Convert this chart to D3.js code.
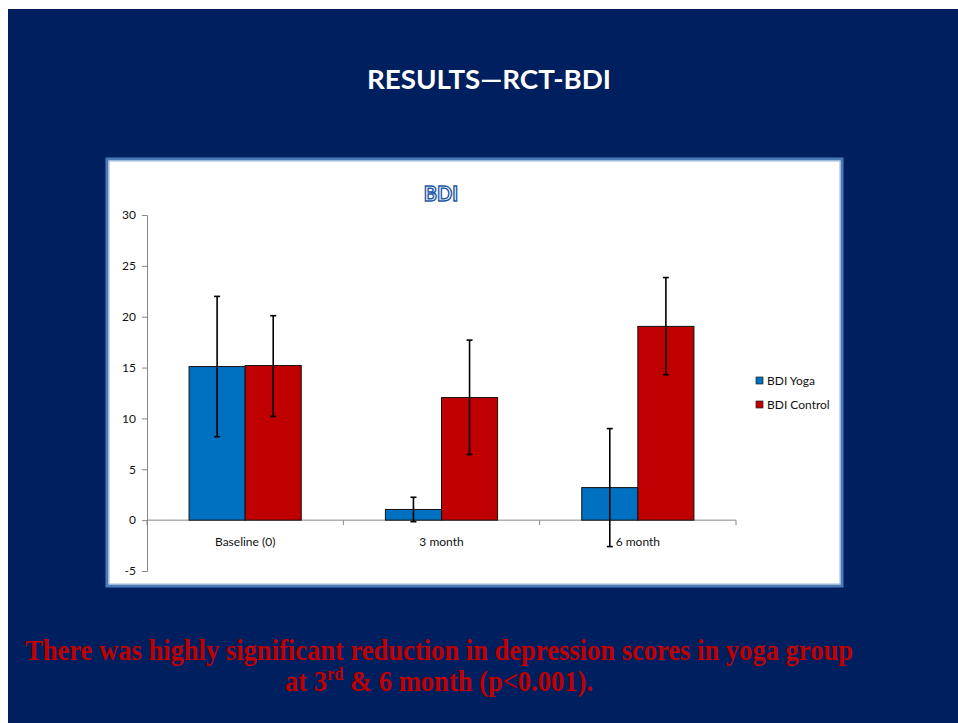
<!DOCTYPE html>
<html><head><meta charset="utf-8">
<script src="https://cdn.jsdelivr.net/npm/d3@7"></script>
<style>html,body{margin:0;padding:0;background:#fff;}svg{display:block;}</style>
</head><body>
<svg id="c" width="958" height="723"></svg>
<script>
const categories = ["Baseline (0)", "3 month", "6 month"];
const series = ["BDI Yoga", "BDI Control"];
const yogaMeans = [15.1, 1.05, 3.2];
const yogaErrUp = [22.0, 2.25, 9.0];
const yogaErrDown = [8.2, -0.15, -2.6];
const controlMeans = [15.2, 12.05, 19.05];
const controlErrUp = [20.1, 17.7, 23.85];
const controlErrDown = [10.2, 6.45, 14.3];
const yTicks = [-5, 0, 5, 10, 15, 20, 25, 30];
const colors = ["#0070c0", "#c00000"];

const svg = d3.select("#c");
svg.append("rect").attr("x", 8).attr("y", 9).attr("width", 950).attr("height", 714).attr("fill", "#001f5f");

svg.append("text").attr("x", 489).attr("y", 89).attr("text-anchor", "middle")
  .attr("font-family", "Lato").attr("font-weight", "bold").attr("font-size", 27)
  .attr("fill", "#fff").attr("textLength", 244).attr("lengthAdjust", "spacingAndGlyphs")
  .text("RESULTS\u2014RCT-BDI");

// chart box
svg.append("rect").attr("x", 107).attr("y", 159).attr("width", 735).attr("height", 427)
  .attr("fill", "#fff").attr("stroke", "#4a7ab8").attr("stroke-width", 3);
svg.append("rect").attr("x", 109).attr("y", 161).attr("width", 731).attr("height", 423)
  .attr("fill", "none").attr("stroke", "#9ab6dc").attr("stroke-width", 1);

svg.append("text").attr("x", 441).attr("y", 201).attr("text-anchor", "middle")
  .attr("font-family", "Lato").attr("font-weight", "bold").attr("font-size", 20)
  .attr("fill", "#fff").attr("stroke", "#1f5aa6").attr("stroke-width", 1.4)
  .text("BDI");

const y = d3.scaleLinear().domain([-5, 30]).range([571, 215]);
const x0 = d3.scaleBand().domain(categories).range([147, 736]).paddingInner(0).paddingOuter(0);
const x1 = d3.scaleBand().domain(series).range([0, x0.bandwidth()]).paddingInner(0).paddingOuter(0.75);

const axisColor = "#868686";
// y axis
const ya = svg.append("g").attr("transform", "translate(147,0)")
  .call(d3.axisLeft(y).tickValues(yTicks).tickSize(5).tickPadding(6).tickFormat(d => String(d)));
ya.select(".domain").attr("stroke", axisColor);
ya.selectAll(".tick line").attr("stroke", axisColor);
ya.selectAll("text").attr("font-family", "Lato").attr("font-size", 12).attr("fill", "#111");

// x axis at y=0
const xa = svg.append("g").attr("transform", `translate(0,${y(0)})`)
  .call(d3.axisBottom(x0).tickSize(0).tickPadding(17));
xa.select(".domain").attr("stroke", axisColor).attr("d", `M147,0H736`);
xa.selectAll("text").attr("font-family", "Lato").attr("font-size", 12).attr("fill", "#111");
const bounds = categories.map(c => x0(c)).concat([x0(categories[2]) + x0.bandwidth()]);
xa.selectAll(".bt").data(bounds).enter().append("line")
  .attr("x1", d => d).attr("x2", d => d).attr("y1", 0).attr("y2", 5).attr("stroke", axisColor);

const rows = [];
categories.forEach((c, i) => {
  rows.push({cat: c, s: series[0], v: yogaMeans[i], hi: yogaErrUp[i], lo: yogaErrDown[i], col: colors[0]});
  rows.push({cat: c, s: series[1], v: controlMeans[i], hi: controlErrUp[i], lo: controlErrDown[i], col: colors[1]});
});

svg.append("g").selectAll("rect").data(rows).enter().append("rect")
  .attr("x", d => x0(d.cat) + x1(d.s))
  .attr("y", d => y(d.v))
  .attr("width", x1.bandwidth())
  .attr("height", d => y(0) - y(d.v))
  .attr("fill", d => d.col).attr("stroke", "#111").attr("stroke-width", 1);

const eg = svg.append("g").attr("stroke", "#000").attr("stroke-width", 1.6);
rows.forEach(d => {
  const cx = x0(d.cat) + x1(d.s) + x1.bandwidth() / 2;
  eg.append("line").attr("x1", cx).attr("x2", cx).attr("y1", y(d.hi)).attr("y2", y(d.lo));
  eg.append("line").attr("x1", cx - 3).attr("x2", cx + 3).attr("y1", y(d.hi)).attr("y2", y(d.hi));
  eg.append("line").attr("x1", cx - 3).attr("x2", cx + 3).attr("y1", y(d.lo)).attr("y2", y(d.lo));
});

// legend
const lg = svg.append("g");
series.forEach((s, i) => {
  lg.append("rect").attr("x", 756).attr("y", 377 + i * 24).attr("width", 7).attr("height", 7)
    .attr("fill", colors[i]).attr("stroke", "#222").attr("stroke-width", 0.7);
  lg.append("text").attr("x", 767).attr("y", 385 + i * 24)
    .attr("font-family", "Lato").attr("font-size", 12).attr("fill", "#111").text(s);
});

// bottom note
const note = svg.append("g").attr("font-family", "Liberation Serif").attr("font-weight", "bold")
  .attr("font-size", 29).attr("fill", "#c00000").attr("text-anchor", "middle");
const t1 = note.append("text").attr("x", 0).attr("y", 0)
  .text("There was highly significant reduction in depression scores in yoga group");
const t2 = note.append("text").attr("x", 0).attr("y", 31);
t2.append("tspan").text("at 3");
t2.append("tspan").attr("font-size", 18).attr("dy", -11).text("rd");
t2.append("tspan").attr("dy", 11).text(" & 6 month (p<0.001).");
const w = t1.node().getComputedTextLength();
const sx = 828 / w;
note.attr("transform", `translate(439,660) scale(${sx},1)`);
</script>
</body></html>
